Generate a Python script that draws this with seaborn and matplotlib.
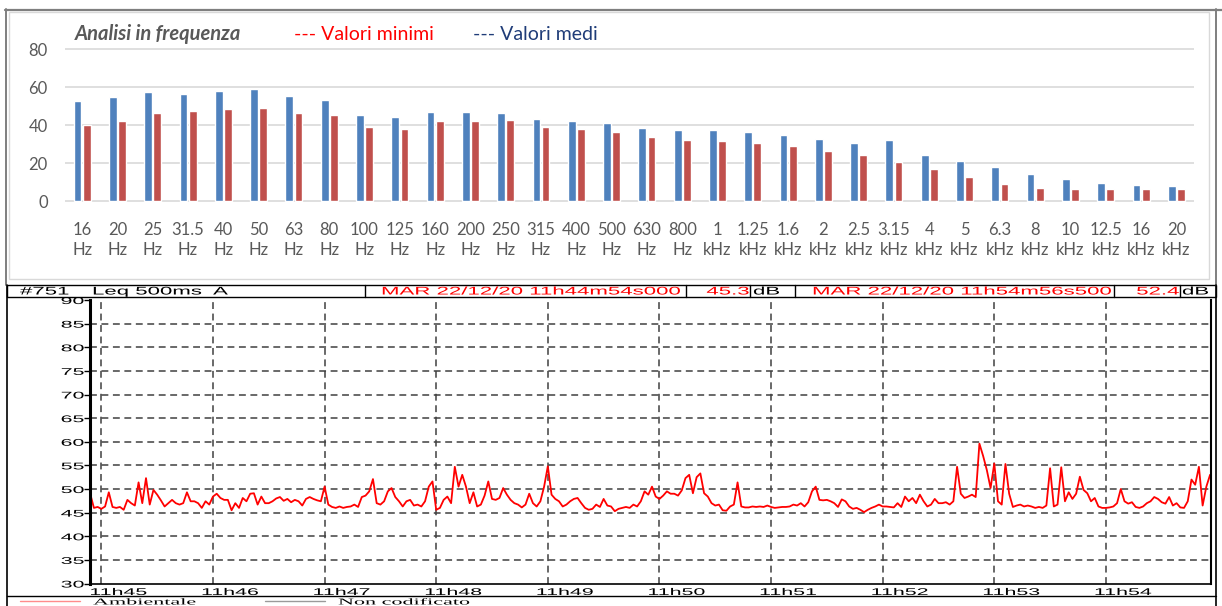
import numpy as np
import pandas as pd
import matplotlib
matplotlib.use('Agg')
import matplotlib.pyplot as plt
import seaborn as sns
from matplotlib.patheffects import AbstractPathEffect
from matplotlib.transforms import Affine2D, ScaledTranslation

# --- analisi in frequenza (terzi d'ottava) ---
bande = ['16\nHz', '20\nHz', '25\nHz', '31.5\nHz', '40\nHz', '50\nHz', '63\nHz', '80\nHz',
         '100\nHz', '125\nHz', '160\nHz', '200\nHz', '250\nHz', '315\nHz', '400\nHz', '500\nHz',
         '630\nHz', '800\nHz', '1\nkHz', '1.25\nkHz', '1.6\nkHz', '2\nkHz', '2.5\nkHz', '3.15\nkHz',
         '4\nkHz', '5\nkHz', '6.3\nkHz', '8\nkHz', '10\nkHz', '12.5\nkHz', '16\nkHz', '20\nkHz']
valori_medi = [52.9, 54.9, 57.5, 56.4, 58.2, 59.1, 55.2, 53.3, 45.2, 44.5, 46.8, 46.8, 46.2, 43.1,
               42.2, 41.0, 38.3, 37.5, 37.5, 36.2, 35.0, 32.7, 30.6, 32.0, 24.1, 21.1, 17.8, 14.2,
               11.6, 9.5, 8.3, 7.7]
valori_minimi = [40.1, 42.4, 46.2, 47.5, 48.5, 49.1, 46.2, 45.4, 38.9, 38.0, 42.4, 42.4, 42.7, 38.9,
                 37.8, 36.2, 33.6, 32.4, 31.8, 30.8, 29.2, 26.5, 24.1, 20.6, 16.7, 12.5, 9.0, 6.9,
                 6.3, 6.2, 6.2, 6.5]

# --- Leq 500ms A, un valore ogni 2 s da 11h44m54s ---
passo_s = 2
leq_db = [
    49.0, 46.0, 46.2, 45.8, 46.3, 49.3, 46.2, 46.0, 46.2, 45.6,
    47.7, 47.0, 46.5, 51.4, 47.0, 52.3, 46.7, 49.8, 48.8, 47.6,
    46.3, 47.0, 47.7, 47.0, 46.7, 47.0, 49.3, 47.4, 47.4, 47.0,
    46.0, 47.4, 46.7, 48.4, 49.0, 48.1, 47.7, 47.7, 45.5, 47.0,
    46.0, 48.1, 47.4, 49.0, 49.1, 46.7, 48.4, 47.0, 47.0, 47.4,
    48.0, 48.3, 47.5, 47.9, 47.2, 47.7, 47.4, 46.5, 47.9, 48.3,
    47.9, 47.6, 47.4, 50.5, 46.7, 46.2, 46.0, 46.3, 46.0, 46.2,
    46.3, 46.7, 46.2, 48.3, 48.6, 49.5, 52.1, 47.0, 46.7, 47.4,
    49.5, 50.2, 48.3, 47.4, 46.3, 47.4, 47.7, 46.5, 46.7, 46.3,
    47.4, 50.5, 51.6, 45.6, 46.0, 47.7, 48.4, 47.0, 54.7, 50.5,
    53.0, 50.5, 47.0, 49.3, 46.3, 46.7, 48.6, 51.6, 47.9, 47.7,
    48.1, 50.2, 48.8, 47.7, 47.0, 46.7, 46.1, 46.7, 49.0, 47.0,
    46.3, 47.4, 50.5, 54.8, 48.8, 47.9, 47.4, 46.3, 46.7, 47.4,
    47.9, 48.1, 47.0, 46.0, 45.6, 45.8, 46.7, 46.2, 47.9, 46.5,
    46.3, 45.3, 45.8, 46.0, 46.2, 46.0, 46.7, 46.3, 47.4, 49.5,
    48.8, 50.5, 48.4, 47.9, 48.6, 49.5, 49.0, 49.0, 48.6, 49.7,
    52.3, 53.0, 49.1, 52.5, 53.3, 49.1, 48.4, 47.0, 46.5, 46.7,
    45.5, 45.4, 46.3, 46.7, 51.4, 46.3, 46.1, 46.1, 46.3, 46.2,
    46.3, 46.2, 46.5, 46.2, 46.0, 46.1, 46.2, 46.2, 46.3, 46.7,
    46.5, 47.0, 46.3, 47.2, 49.5, 50.5, 47.7, 47.6, 47.7, 47.4,
    47.0, 46.2, 47.8, 47.4, 46.3, 45.8, 46.0, 45.6, 45.1, 45.6,
    46.0, 46.3, 46.7, 46.3, 46.3, 46.2, 46.1, 47.0, 46.2, 48.4,
    47.4, 48.1, 47.0, 48.8, 47.4, 46.3, 46.7, 47.9, 47.0, 47.0,
    47.2, 46.7, 47.4, 54.7, 49.0, 48.1, 48.4, 48.8, 48.3, 59.6,
    57.0, 54.0, 50.2, 55.4, 47.4, 46.7, 55.3, 49.0, 46.2, 46.5,
    46.7, 46.3, 46.5, 46.3, 46.0, 46.2, 46.0, 46.5, 54.4, 46.3,
    46.7, 54.6, 47.4, 49.3, 47.9, 49.0, 52.6, 49.8, 49.1, 47.4,
    48.1, 46.3, 46.0, 46.0, 46.1, 46.3, 47.0, 50.0, 47.4, 46.9,
    47.2, 46.2, 46.0, 46.3, 47.0, 47.4, 48.3, 47.9, 47.2, 46.9,
    48.3, 46.5, 47.0, 46.1, 46.0, 47.4, 52.0, 50.9, 54.7, 46.5,
    50.5, 53.0,
]
orari = ['11h45', '11h46', '11h47', '11h48', '11h49', '11h50', '11h51', '11h52', '11h53', '11h54']
secondi_a_11h45 = 6          # dall'inizio (11h44m54s) alle 11h45
durata_s = 602.5             # fino a 11h54m56s500


class Stretch(AbstractPathEffect):
    """Allarga il testo in orizzontale, come nella stampa del fonometro."""
    def __init__(self, sx, anchor='left'):
        super().__init__()
        self.sx = sx
        self.anchor = anchor

    def draw_path(self, renderer, gc, tpath, affine, rgbFace=None):
        xs = tpath.vertices[:, 0]
        if len(xs) == 0:
            return
        if self.anchor == 'center':
            x0 = (xs.min() + xs.max()) / 2
        elif self.anchor == 'right':
            x0 = xs.max()
        else:
            x0 = 0
        t = Affine2D().translate(-x0, 0).scale(self.sx, 1).translate(x0, 0)
        renderer.draw_path(gc, tpath, t + affine, rgbFace)


sns.set_theme(style='white')
plt.rcParams['font.family'] = ['Lato', 'DejaVu Sans']

W, H = 1222, 606
fig = plt.figure(figsize=(W / 100, H / 100), dpi=100, facecolor='white')


def px_axes(x0, y0, x1, y1, **kw):
    return fig.add_axes([x0 / W, 1 - y1 / H, (x1 - x0) / W, (y1 - y0) / H], **kw)


# ---------------- grafico a barre ----------------
ax1 = px_axes(64.5, 45.5, 1194, 202.9)
n = len(bande)
df = pd.DataFrame({
    'banda': bande * 2,
    'livello': valori_medi + valori_minimi,
    'serie': ['Valori medi'] * n + ['Valori minimi'] * n,
})
sns.barplot(data=df, x='banda', y='livello', hue='serie',
            hue_order=['Valori medi', 'Valori minimi'],
            palette={'Valori medi': '#4F81BD', 'Valori minimi': '#C0504D'},
            saturation=1, width=0.52, gap=0.15, legend=False, ax=ax1)
ax1.set_ylim(-1, 82)
ax1.set_xlim(-0.5, n - 0.5)
ax1.set_yticks([0, 20, 40, 60, 80])
ax1.set_xlabel('')
ax1.set_ylabel('')
ax1.grid(axis='y', color='#D9D9D9', linewidth=1.2)
ax1.set_axisbelow(True)
for s in ax1.spines.values():
    s.set_visible(False)
ax1.tick_params(axis='both', length=0, labelsize=12, labelcolor='#595959')
ax1.tick_params(axis='y', pad=12)
ax1.tick_params(axis='x', pad=14)
for lab in ax1.get_xticklabels():
    lab.set_linespacing(1.3)

fig.text(75 / W, 1 - 40.5 / H, 'Analisi in frequenza', fontsize=14.5, fontweight='bold',
         fontstyle='italic', color='#595959', va='baseline')
fig.text(294 / W, 1 - 40.5 / H, '--- Valori minimi', fontsize=14, color='#FF0000', va='baseline')
fig.text(473 / W, 1 - 40.5 / H, '--- Valori medi', fontsize=14, color='#1F3C78', va='baseline')

# ---------------- andamento temporale ----------------
ax2 = px_axes(90.2, 300, 1211, 583.5)
t_s = np.arange(len(leq_db)) * passo_s
sns.lineplot(x=t_s, y=leq_db, color='#FF0000', linewidth=1.3, ax=ax2)
ax2.set_xlim(0, durata_s)
ax2.set_ylim(30, 90)
ax2.set_yticks(range(30, 95, 5), [str(v) for v in range(30, 95, 5)])
ax2.set_xticks([secondi_a_11h45 + 60 * i for i in range(len(orari))], orari)
ax2.set_xlabel('')
ax2.set_ylabel('')
ax2.grid(True, color='#404040', linestyle=(0, (4.5, 3)), linewidth=1.1)
for tk in (ax2.yaxis.get_major_ticks()[0], ax2.yaxis.get_major_ticks()[-1]):
    tk.gridline.set_visible(False)
ax2.spines['top'].set_visible(False)
ax2.spines['left'].set_linewidth(2.2)
ax2.spines['right'].set_linewidth(1.5)
ax2.spines['bottom'].set_linewidth(1.2)
for s in ('left', 'right', 'bottom'):
    ax2.spines[s].set_color('black')
ax2.tick_params(axis='y', length=4, width=1, color='black', pad=0.5, labelsize=7,
                labelcolor='black', left=True)
ax2.tick_params(axis='x', length=0, pad=2.5, labelsize=7, labelcolor='black')
for lab in ax2.get_yticklabels():
    lab.set_fontfamily('Liberation Sans')
    lab.set_path_effects([Stretch(2.2, 'right')])
for lab in ax2.get_xticklabels():
    lab.set_fontfamily('Liberation Sans')
    lab.set_horizontalalignment('left')
    lab.set_transform(lab.get_transform() + ScaledTranslation(-12 / 100, 0, fig.dpi_scale_trans))
    lab.set_path_effects([Stretch(2.2, 'left')])

# ---------------- cornici, intestazione e legenda ----------------
deco = px_axes(0, 0, W, H, zorder=5)
deco.set_xlim(0, W)
deco.set_ylim(H, 0)
deco.axis('off')

# cornice del grafico a barre
deco.plot([5, W], [9.5, 9.5], color='#7F7F7F', lw=1.6)
deco.plot([6, 6], [9, 285], color='#7F7F7F', lw=1.4)
deco.plot([1216, 1216], [9, 285], color='#7F7F7F', lw=1.4)
deco.add_patch(plt.Rectangle((8.7, 11.7), 1209 - 8.7, 279.3 - 11.7, fill=False,
                             edgecolor='#D9D9D9', lw=1.0))

# intestazione della misura
deco.add_patch(plt.Rectangle((7, 285), 1216 - 7, 12, facecolor='white', edgecolor='black', lw=1.0))
for xd in (365, 686, 750, 795, 1114, 1180):
    deco.plot([xd, xd], [285, 297], color='black', lw=1.0)
hdr = dict(fontsize=8, family='Liberation Sans', va='center')
testi = [
    (20, '#751', 'black', 'left'),
    (92, 'Leq 500ms  A', 'black', 'left'),
    (381, 'MAR 22/12/20 11h44m54s000', '#FF0000', 'left'),
    (749, '45.3', '#FF0000', 'right'),
    (753, 'dB', 'black', 'left'),
    (812, 'MAR 22/12/20 11h54m56s500', '#FF0000', 'left'),
    (1179, '52.4', '#FF0000', 'right'),
    (1182, 'dB', 'black', 'left'),
]
for x, s, c, ha in testi:
    deco.text(x, 291.5, s, color=c, ha=ha, path_effects=[Stretch(2.0, ha)], **hdr)

# bordi del pannello inferiore e legenda
deco.plot([7, 7], [285, H], color='black', lw=1.2)
deco.plot([1216, 1216], [285, H], color='black', lw=1.2)
deco.plot([7, 1216], [596, 596], color='black', lw=1.0)
deco.plot([20, 80], [601, 601], color='#FF8C8C', lw=1.0)
deco.plot([265, 325], [601, 601], color='#9A9A9A', lw=1.0)
leg = dict(fontsize=6.5, family='Liberation Serif', va='baseline', color='black')
deco.text(93, 604.5, 'Ambientale', path_effects=[Stretch(2.45, 'left')], **leg)
deco.text(338, 604.5, 'Non codificato', path_effects=[Stretch(2.45, 'left')], **leg)

fig.savefig('out.png', dpi=100, facecolor='white')
